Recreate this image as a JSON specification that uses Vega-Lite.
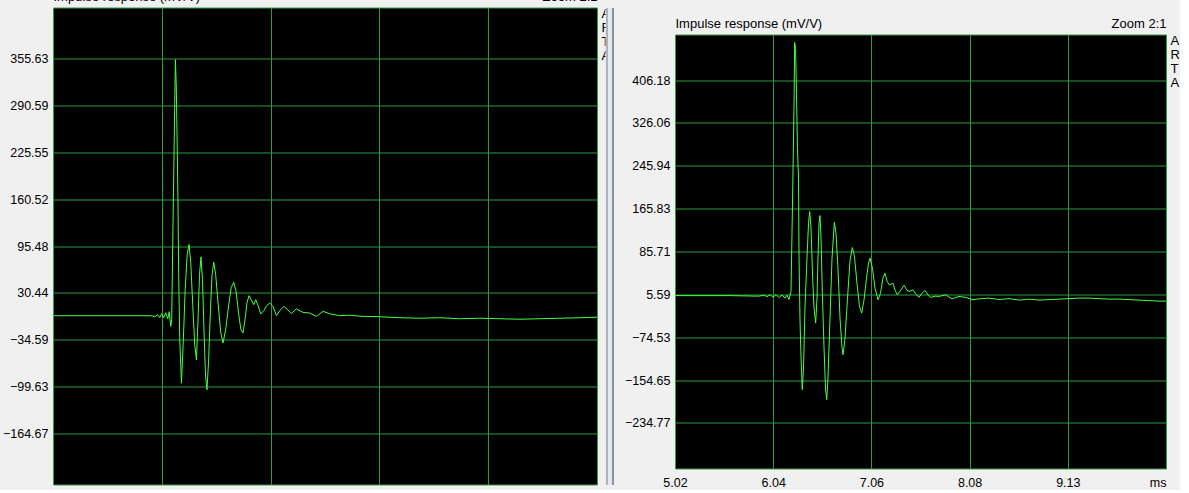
{
  "$schema": "https://vega.github.io/schema/vega-lite/v6.json",
  "background": "#f0f0f0",
  "padding": {"left": 1, "top": -10.5, "right": 0, "bottom": 0},
  "spacing": 10,
  "datasets": {
    "left": [
      {"t":5.020,"v":-1.1},{"t":5.460,"v":-1.1},{"t":5.946,"v":-1.1},{"t":5.977,"v":-2.5},{"t":6.005,"v":0.3},{"t":6.024,"v":-3.9},{"t":6.043,"v":1.7},{"t":6.062,"v":-3.9},{"t":6.081,"v":3.1},{"t":6.100,"v":-5.3},{"t":6.114,"v":4.5},{"t":6.128,"v":-16.0},{"t":6.137,"v":-6.7},{"t":6.149,"v":118.4},{"t":6.161,"v":243.5},{"t":6.172,"v":353.7},{"t":6.180,"v":318.5},{"t":6.187,"v":253.2},{"t":6.196,"v":160.1},{"t":6.203,"v":55.9},{"t":6.213,"v":-34.5},{"t":6.229,"v":-94.6},{"t":6.245,"v":-41.4},{"t":6.264,"v":35.0},{"t":6.283,"v":83.7},{"t":6.300,"v":97.6},{"t":6.316,"v":73.9},{"t":6.335,"v":14.2},{"t":6.354,"v":-41.4},{"t":6.370,"v":-62.3},{"t":6.385,"v":-6.7},{"t":6.399,"v":55.9},{"t":6.413,"v":80.5},{"t":6.427,"v":48.9},{"t":6.441,"v":-20.6},{"t":6.455,"v":-83.1},{"t":6.469,"v":-103.9},{"t":6.485,"v":-62.3},{"t":6.502,"v":7.2},{"t":6.517,"v":55.9},{"t":6.533,"v":73.0},{"t":6.551,"v":55.9},{"t":6.575,"v":14.2},{"t":6.598,"v":-23.3},{"t":6.620,"v":-39.0},{"t":6.645,"v":-20.6},{"t":6.674,"v":14.2},{"t":6.697,"v":37.8},{"t":6.721,"v":45.2},{"t":6.744,"v":32.2},{"t":6.768,"v":0.3},{"t":6.789,"v":-20.6},{"t":6.808,"v":-25.1},{"t":6.827,"v":-6.7},{"t":6.846,"v":17.0},{"t":6.865,"v":26.7},{"t":6.885,"v":21.1},{"t":6.909,"v":14.2},{"t":6.928,"v":21.1},{"t":6.951,"v":12.8},{"t":6.975,"v":1.3},{"t":7.003,"v":5.8},{"t":7.031,"v":12.8},{"t":7.060,"v":16.5},{"t":7.091,"v":11.8},{"t":7.123,"v":-1.1},{"t":7.154,"v":5.8},{"t":7.191,"v":11.8},{"t":7.229,"v":7.2},{"t":7.264,"v":1.7},{"t":7.311,"v":8.2},{"t":7.373,"v":3.5},{"t":7.436,"v":2.6},{"t":7.499,"v":-2.1},{"t":7.561,"v":4.9},{"t":7.624,"v":1.7},{"t":7.718,"v":-1.1},{"t":7.813,"v":-0.4},{"t":7.907,"v":-1.8},{"t":8.095,"v":-2.5},{"t":8.283,"v":-3.9},{"t":8.471,"v":-4.6},{"t":8.660,"v":-3.9},{"t":8.848,"v":-5.3},{"t":9.036,"v":-4.6},{"t":9.224,"v":-5.3},{"t":9.413,"v":-6.0},{"t":9.601,"v":-5.3},{"t":9.789,"v":-4.6},{"t":9.977,"v":-3.9},{"t":10.140,"v":-3.2}
    ],
    "right": [
      {"t":5.020,"v":3.2},{"t":5.269,"v":3.2},{"t":5.581,"v":3.2},{"t":5.893,"v":2.2},{"t":5.944,"v":4.1},{"t":5.976,"v":1.3},{"t":6.007,"v":5.0},{"t":6.038,"v":0.4},{"t":6.069,"v":5.0},{"t":6.100,"v":-0.6},{"t":6.131,"v":4.1},{"t":6.163,"v":-1.5},{"t":6.183,"v":4.1},{"t":6.204,"v":-4.3},{"t":6.225,"v":11.6},{"t":6.240,"v":170.3},{"t":6.256,"v":353.3},{"t":6.263,"v":476.6},{"t":6.272,"v":465.4},{"t":6.282,"v":381.4},{"t":6.292,"v":278.6},{"t":6.303,"v":222.6},{"t":6.308,"v":78.8},{"t":6.318,"v":-38.9},{"t":6.329,"v":-113.6},{"t":6.342,"v":-172.8},{"t":6.355,"v":-132.2},{"t":6.370,"v":-20.2},{"t":6.391,"v":73.2},{"t":6.407,"v":138.6},{"t":6.419,"v":160.4},{"t":6.433,"v":129.2},{"t":6.448,"v":45.2},{"t":6.464,"v":-20.2},{"t":6.481,"v":-48.2},{"t":6.495,"v":-1.5},{"t":6.505,"v":73.2},{"t":6.516,"v":138.6},{"t":6.526,"v":152.9},{"t":6.537,"v":110.5},{"t":6.552,"v":-1.5},{"t":6.568,"v":-94.9},{"t":6.583,"v":-169.6},{"t":6.596,"v":-191.4},{"t":6.609,"v":-150.9},{"t":6.630,"v":-38.9},{"t":6.651,"v":73.2},{"t":6.675,"v":140.4},{"t":6.692,"v":119.9},{"t":6.713,"v":54.5},{"t":6.734,"v":-38.9},{"t":6.755,"v":-94.9},{"t":6.765,"v":-107.4},{"t":6.786,"v":-76.2},{"t":6.812,"v":-1.5},{"t":6.838,"v":69.5},{"t":6.862,"v":93.2},{"t":6.884,"v":76.9},{"t":6.910,"v":26.5},{"t":6.936,"v":-16.5},{"t":6.959,"v":-29.5},{"t":6.983,"v":-5.2},{"t":7.009,"v":35.8},{"t":7.030,"v":63.9},{"t":7.045,"v":73.2},{"t":7.071,"v":54.5},{"t":7.097,"v":17.2},{"t":7.129,"v":-4.7},{"t":7.155,"v":7.8},{"t":7.180,"v":35.8},{"t":7.201,"v":45.2},{"t":7.222,"v":30.2},{"t":7.248,"v":22.8},{"t":7.284,"v":26.5},{"t":7.305,"v":13.4},{"t":7.329,"v":4.7},{"t":7.357,"v":11.6},{"t":7.399,"v":22.2},{"t":7.430,"v":13.4},{"t":7.451,"v":11.0},{"t":7.492,"v":14.0},{"t":7.523,"v":6.0},{"t":7.554,"v":-0.2},{"t":7.586,"v":7.8},{"t":7.617,"v":12.9},{"t":7.648,"v":4.1},{"t":7.676,"v":-0.2},{"t":7.721,"v":2.2},{"t":7.762,"v":1.7},{"t":7.832,"v":4.7},{"t":7.897,"v":-2.8},{"t":7.970,"v":1.7},{"t":8.043,"v":-0.2},{"t":8.105,"v":-4.7},{"t":8.178,"v":-2.8},{"t":8.282,"v":-1.5},{"t":8.385,"v":-4.3},{"t":8.489,"v":-2.4},{"t":8.593,"v":-5.2},{"t":8.697,"v":-3.4},{"t":8.801,"v":-5.2},{"t":8.905,"v":-4.3},{"t":9.009,"v":-3.4},{"t":9.112,"v":-2.4},{"t":9.216,"v":-1.5},{"t":9.320,"v":-1.5},{"t":9.424,"v":-2.4},{"t":9.528,"v":-3.4},{"t":9.632,"v":-3.4},{"t":9.736,"v":-4.3},{"t":9.840,"v":-5.2},{"t":9.943,"v":-6.2},{"t":10.047,"v":-7.1},{"t":10.120,"v":-7.1}
    ],
    "empty": []
  },
  "hconcat": [
    {
      "width": 544,
      "height": 477,
      "view": {"fill": "#000000", "stroke": "#3a9a46", "strokeWidth": 1},
      "data": {"name": "left"},
      "layer": [
        {
          "mark": {"type": "line", "color": "#44ff44", "strokeWidth": 1},
          "encoding": {
            "x": {"field": "t", "type": "quantitative", "scale": {"domain": [5.02, 10.14], "nice": false, "zero": false},
                  "axis": {"orient": "bottom", "values": [6.044, 7.068, 8.092, 9.116], "labels": false, "grid": true, "title": null, "minExtent": 0}},
            "y": {"field": "v", "type": "quantitative", "scale": {"domain": [-234.97, 425.93], "nice": false, "zero": false},
                  "axis": {"orient": "left", "values": [355.63, 290.59, 225.55, 160.52, 95.48, 30.44, -34.59, -99.63, -164.67], "format": ".2f", "grid": true, "title": null, "labelPadding": 5, "labelOverlap": false}}
          }
        },
        {
          "mark": {"type": "line", "opacity": 0},
          "encoding": {
            "x": {"field": "t", "type": "quantitative", "axis": {"orient": "top", "title": "Impulse response (mV/V)", "titleAnchor": "start", "labels": false, "grid": false, "titlePadding": 4, "minExtent": 0}},
            "y": {"field": "v", "type": "quantitative", "axis": {"orient": "right", "title": ["A", "R", "T", "A"], "titleAngle": 0, "titleAnchor": "end", "titleAlign": "left", "titleBaseline": "top", "titleLineHeight": 14, "titlePadding": -38, "labels": false, "grid": false, "minExtent": 0, "zindex": 1}}
          }
        },
        {
          "mark": {"type": "line", "opacity": 0},
          "encoding": {
            "x": {"field": "t", "type": "quantitative", "axis": {"orient": "top", "title": "Zoom 2:1", "titleAnchor": "end", "labels": false, "grid": false, "titlePadding": 4, "minExtent": 0}},
            "y": {"field": "v", "type": "quantitative", "axis": {"orient": "right", "title": null, "labels": false, "grid": false, "domain": true, "domainColor": "#e4e8ed", "domainWidth": 8, "offset": 12, "minExtent": 0, "zindex": 2}}
          }
        },
        {
          "mark": {"type": "line", "opacity": 0},
          "encoding": {
            "x": {"field": "t", "type": "quantitative", "axis": null},
            "y": {"field": "v", "type": "quantitative", "axis": {"orient": "right", "title": null, "labels": false, "grid": false, "domain": true, "domainColor": "#9aa2ab", "domainWidth": 1.5, "offset": 9.5, "minExtent": 0, "zindex": 3}}
          }
        },
        {
          "mark": {"type": "line", "opacity": 0},
          "encoding": {
            "x": {"field": "t", "type": "quantitative", "axis": null},
            "y": {"field": "v", "type": "quantitative", "axis": {"orient": "right", "title": null, "labels": false, "grid": false, "domain": true, "domainColor": "#8a939c", "domainWidth": 2, "offset": 15.5, "minExtent": 0, "zindex": 3}}
          }
        }
      ],
      "resolve": {"axis": {"x": "independent", "y": "independent"}}
    },
    {
      "spacing": 0,
      "vconcat": [
        {
          "width": 491,
          "height": 9,
          "view": {"fill": null, "stroke": null},
          "data": {"name": "empty"},
          "mark": "point"
        },
        {
          "width": 491,
          "height": 434,
          "view": {"fill": "#000000", "stroke": "#3a9a46", "strokeWidth": 1},
          "data": {"name": "right"},
          "layer": [
            {
              "mark": {"type": "line", "color": "#44ff44", "strokeWidth": 1},
              "encoding": {
                "x": {"field": "t", "type": "quantitative", "scale": {"domain": [5.02, 10.12], "nice": false, "zero": false},
                      "axis": {"orient": "bottom", "values": [5.02, 6.04, 7.06, 8.08, 9.10, 10.12], "labelExpr": "datum.value > 10 ? 'ms' : (datum.value > 9 ? '9.13' : format(datum.value, '.2f'))", "labelAlign": {"condition": {"test": "datum.value > 10", "value": "right"}, "value": "center"}, "labelFlush": false, "labelOverlap": false, "labelPadding": 8, "grid": true, "title": null}},
                "y": {"field": "v", "type": "quantitative", "scale": {"domain": [-320.17, 491.58], "nice": false, "zero": false},
                      "axis": {"orient": "left", "values": [406.18, 326.06, 245.94, 165.83, 85.71, 5.59, -74.53, -154.65, -234.77], "format": ".2f", "grid": true, "title": null, "labelPadding": 5, "labelOverlap": false}}
              }
            },
            {
              "mark": {"type": "line", "opacity": 0},
              "encoding": {
                "x": {"field": "t", "type": "quantitative", "axis": {"orient": "top", "title": "Impulse response (mV/V)", "titleAnchor": "start", "labels": false, "grid": false, "titlePadding": 4, "minExtent": 0}},
                "y": {"field": "v", "type": "quantitative", "axis": {"orient": "right", "title": ["A", "R", "T", "A"], "titleAngle": 0, "titleAnchor": "end", "titleAlign": "left", "titleBaseline": "top", "titleLineHeight": 14, "titlePadding": -38, "labels": false, "grid": false, "minExtent": 0}}
              }
            },
            {
              "mark": {"type": "line", "opacity": 0},
              "encoding": {
                "x": {"field": "t", "type": "quantitative", "axis": {"orient": "top", "title": "Zoom 2:1", "titleAnchor": "end", "labels": false, "grid": false, "titlePadding": 4, "minExtent": 0}},
                "y": {"field": "v", "type": "quantitative", "axis": null}
              }
            }
          ],
          "resolve": {"axis": {"x": "independent", "y": "independent"}}
        }
      ]
    }
  ],
  "config": {
    "view": {"stroke": null},
    "axis": {
      "labelFont": "Liberation Sans",
      "labelFontSize": 12.5,
      "labelColor": "#000000",
      "titleFont": "Liberation Sans",
      "titleFontSize": 13,
      "titleFontWeight": "normal",
      "titleColor": "#000000",
      "gridColor": "#2f9a3e",
      "gridOpacity": 1,
      "gridWidth": 1,
      "ticks": false,
      "tickSize": 0,
      "domain": false
    }
  }
}
